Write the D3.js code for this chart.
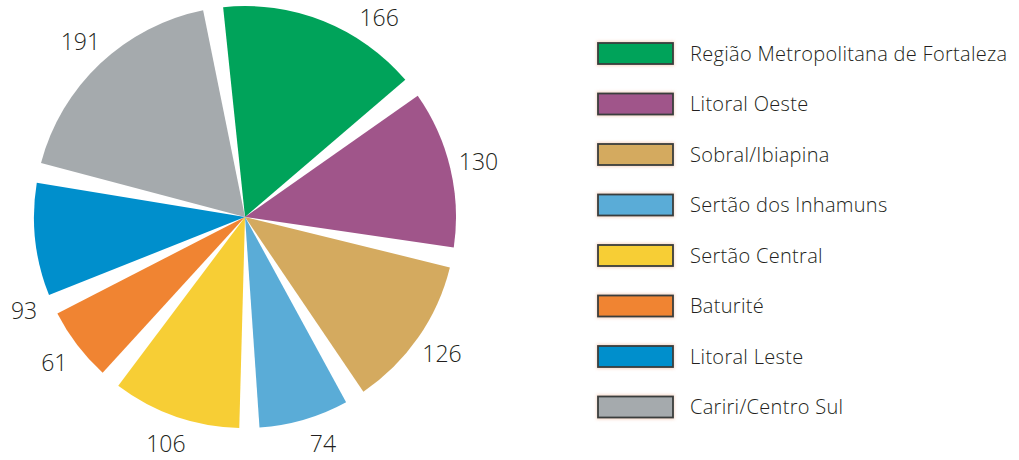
<!DOCTYPE html>
<html>
<head>
<meta charset="utf-8">
<script src="https://cdn.jsdelivr.net/npm/d3@7"></script>
<style>
  html, body { margin: 0; padding: 0; background: #ffffff; }
  svg { display: block; }
  text { font-family: "Open Sans", Lato, sans-serif; font-weight: 300; fill: #231f20; }
</style>
</head>
<body>
<svg id="chart" width="1019" height="460"></svg>
<script>
// Regions and their values
const regions = [
  "Região Metropolitana de Fortaleza",
  "Litoral Oeste",
  "Sobral/Ibiapina",
  "Sertão dos Inhamuns",
  "Sertão Central",
  "Baturité",
  "Litoral Leste",
  "Cariri/Centro Sul"
];
const values = [166, 130, 126, 74, 106, 61, 93, 191];
const colors = ["#00a35a", "#a0558a", "#d4aa5f", "#5aacd7", "#f7ce35", "#f08432", "#008fcc", "#a5aaad"];

const data = regions.map((name, i) => ({ name, value: values[i], color: colors[i] }));

const svg = d3.select("#chart");
const W = 1019, H = 460;
const cx = 245, cy = 217, R = 211;
const gap = 5.5 * Math.PI / 180;          // angular gap between slices
const start = -8.7 * Math.PI / 180;       // centre of the gap at the top

const pie = d3.pie()
  .value(d => d.value)
  .sort(null)
  .startAngle(start)
  .endAngle(start + 2 * Math.PI)
  .padAngle(gap);

const arcs = pie(data);

// wedge-shaped gaps: every slice keeps its apex at the centre
const arc = d3.arc()
  .innerRadius(0)
  .outerRadius(R)
  .startAngle(d => d.startAngle + d.padAngle / 2)
  .endAngle(d => d.endAngle - d.padAngle / 2)
  .padAngle(0);

const g = svg.append("g").attr("transform", `translate(${cx},${cy})`);

g.selectAll("path.slice")
  .data(arcs)
  .join("path")
  .attr("class", "slice")
  .attr("d", arc)
  .attr("fill", d => d.data.color);

// value labels on a ring just outside the pie; where the ring leaves the
// drawing area the label slides along it to the nearest point still inside
const labelR = 240;
const topLimit = 18 - cy, bottomLimit = H - 16 - cy, leftLimit = 24 - cx;
const TAU = 2 * Math.PI;
function nearestAngle(a, candidates) {
  let best = candidates[0], bestD = Infinity;
  for (const c of candidates) {
    const diff = Math.abs(((a - c) % TAU + TAU + Math.PI) % TAU - Math.PI);
    if (diff < bestD) { bestD = diff; best = c; }
  }
  return best;
}
function labelPos(d) {
  let a = (d.startAngle + d.endAngle) / 2;
  let y = -labelR * Math.cos(a), x = labelR * Math.sin(a);
  if (y < topLimit) {
    const b = Math.acos(-topLimit / labelR);
    a = nearestAngle(a, [b, -b]);
  } else if (y > bottomLimit) {
    const b = Math.acos(-bottomLimit / labelR);
    a = nearestAngle(a, [b, -b]);
  }
  x = labelR * Math.sin(a);
  if (x < leftLimit) {
    const b = Math.asin(leftLimit / labelR);      // negative angle
    a = nearestAngle(a, [b, Math.PI - b]);
  }
  return [labelR * Math.sin(a), -labelR * Math.cos(a)];
}

g.selectAll("text.value")
  .data(arcs)
  .join("text")
  .attr("class", "value")
  .attr("transform", d => `translate(${labelPos(d)})`)
  .attr("text-anchor", "middle")
  .attr("dy", "0.35em")
  .style("font-size", "23px")
  .text(d => d.data.value);

// legend
const legendY = d3.scalePoint()
  .domain(regions)
  .range([53.5, 407])
  .padding(0);

const defs = svg.append("defs");
defs.append("filter")
  .attr("id", "glow")
  .attr("x", "-20%").attr("y", "-50%").attr("width", "140%").attr("height", "200%")
  .append("feGaussianBlur")
  .attr("stdDeviation", 1.4);

const legend = svg.append("g").attr("class", "legend");
const rows = legend.selectAll("g.row")
  .data(data)
  .join("g")
  .attr("class", "row")
  .attr("transform", d => `translate(598,${legendY(d.name)})`);

rows.append("rect")
  .attr("x", -1.5).attr("y", -12.5)
  .attr("width", 78).attr("height", 25)
  .attr("fill", "#f4c9b4")
  .attr("opacity", 0.7)
  .attr("filter", "url(#glow)");

rows.append("rect")
  .attr("x", 0).attr("y", -10.5)
  .attr("width", 75).attr("height", 21)
  .attr("fill", d => d.color)
  .attr("stroke", "#3a3d3c")
  .attr("stroke-width", 1.8);

rows.append("text")
  .attr("x", 92)
  .attr("y", 0)
  .attr("dy", "0.35em")
  .style("font-size", "20px")
  .style("letter-spacing", "0.3px")
  .text(d => d.name);
</script>
</body>
</html>
